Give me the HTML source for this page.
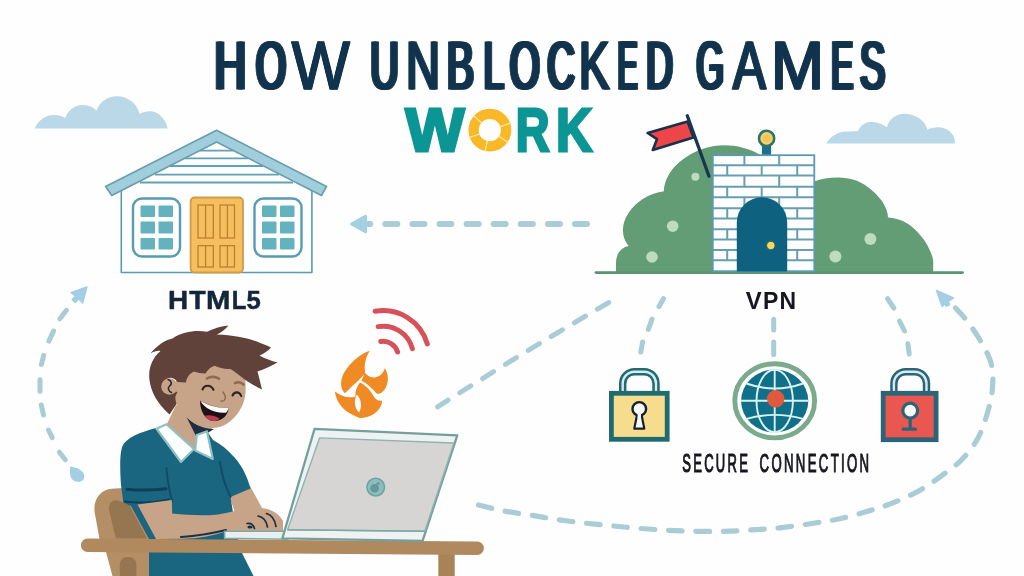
<!DOCTYPE html>
<html>
<head>
<meta charset="utf-8">
<title>How Unblocked Games Work</title>
<style>
html,body{margin:0;padding:0;background:#ffffff;}
body{width:1024px;height:576px;overflow:hidden;font-family:"Liberation Sans",sans-serif;}
svg{display:block;will-change:transform;}
svg text{font-family:"Liberation Sans",sans-serif;font-weight:bold;}
</style>
</head>
<body>
<svg width="1024" height="576" viewBox="0 0 1024 576">
<rect width="1024" height="576" fill="#fefefe"/>
<g id="clouds" fill="#bbd8e9">
<path d="M34.8,128.4 C38,120.5 45.5,115 53.6,115 C58.5,115 62.5,116.3 65.3,118 C68,110.5 74.5,105 82.5,105 C88.5,105 93.8,107.3 96.6,110.8 C99.5,102 107.3,96.3 116.9,96.3 C128,96.3 137.3,103.7 139.5,113.9 C142.5,112.2 146,111.3 149.7,111.3 C158.5,111.3 165.5,118.6 167.7,128.4 Z"/>
<path d="M826,143.4 C831,136 838.5,131.6 846,131.6 C851,131.3 855,131.2 858,131 C860.5,125.3 865.2,121.9 870.5,121.9 C877,121.9 883,124 886.9,127.3 C889,119.3 896,113.75 904,113.75 C915,113.75 925,120 927.5,129.7 C930.7,128 934.5,127.3 938.4,127.3 C946.5,127.3 953.3,132.5 954.5,139 C954.8,140.5 954.8,142 954.8,143.4 Z"/>
</g>

<g id="arrows" fill="none" stroke="#aaccd5" stroke-linecap="round" stroke-linejoin="round">
<path d="M587,224 H368" stroke-width="6" stroke-dasharray="12 15.1"/>
<path d="M351.5,224 L365.5,216.2 V231.8 Z" fill="#a6cfe2" stroke="#a6cfe2" stroke-width="3"/>
<path d="M59.4,452.2 L65.3,459.7 M48.5,430.0 L52.2,437.7 M41.3,405.0 L43.5,415.0 M40.0,379.8 L40.0,391.3 M43.7,355.4 L41.4,364.5 M53.6,331.0 L48.9,341.1 M66.5,310.3 L59.8,318.8 M75.1,300.0 L75.0,300.1" stroke-width="5"/>
<path d="M70.2,466.6 C74.5,467.2 80,469 82.8,472.2 C85.6,475.6 84.6,480 80.8,481.4 C76.6,482.8 72,480.6 70.6,476.4 C69.6,473.2 70,469.6 70.2,466.6 Z" fill="#a3cee3" stroke="none"/>
<path d="M86.9,287 L70.9,292.6 L75.6,296 L72.2,299.6 L75.2,302.6 L78.8,298.8 L82.7,303 Z" fill="#a3cee3" stroke="#a3cee3" stroke-width="1.4"/>
<path d="M773.7,319.3 V329.9 M773.7,342.1 V354.5" stroke-width="5"/>
<path d="M663.4,298.7 L659,306.5 M652,319.2 L648.3,329.3 M642.6,342 L640.8,352" stroke-width="5"/>
<path d="M887.5,298.7 L893.8,308 M899.5,321 L904.5,331 M907.9,343.8 L909.2,353.9" stroke-width="5"/>
<path d="M608.7,302.6 Q522,353 437.6,406.8" stroke-width="5" stroke-dasharray="13 13.85"/>
<path d="M478.5,505.0 C482.8,506.0 495.2,509.3 504.0,511.0 C512.8,512.7 521.9,513.8 531.0,515.2 C540.1,516.7 549.4,518.4 558.5,519.7 C567.6,521.0 576.8,522.2 585.9,523.2 C595.0,524.2 603.8,525.0 613.0,525.9 C622.2,526.8 631.8,527.8 641.0,528.5 C650.2,529.2 659.3,529.8 668.5,530.3 C677.7,530.8 687.1,531.1 696.3,531.3 C705.5,531.5 714.5,531.5 723.7,531.3 C733.0,531.1 742.4,530.5 751.8,529.9 C761.2,529.3 769.2,529.0 780.0,527.8 C790.8,526.6 806.0,524.4 816.5,522.8 C827.0,521.2 834.1,520.0 843.0,518.0 C851.9,516.0 861.5,513.2 870.0,510.6 C878.5,508.0 885.9,505.7 894.0,502.4 C902.1,499.1 910.9,495.3 918.6,491.0 C926.3,486.7 933.4,481.7 940.4,476.6 C947.4,471.5 954.7,466.7 960.8,460.6 C966.9,454.5 972.6,447.5 976.9,440.0 C981.2,432.5 984.0,424.3 986.6,415.8 C989.2,407.3 991.6,397.5 992.4,389.0 C993.2,380.5 993.2,372.3 991.5,364.8 C989.8,357.3 986.0,350.8 982.3,344.0 C978.6,337.2 973.4,329.5 969.3,323.8 C965.1,318.1 960.8,313.7 957.4,310.0 C954.0,306.3 950.4,302.9 949.0,301.5" stroke-width="5.2" stroke-dasharray="13.6 13.82"/>
<path d="M936.6,290.6 L953.4,298 L948.2,301.2 L949.6,304.6 L946,306.2 L944.6,303.4 L942.2,306.4 Z" fill="#a3cee3" stroke="#a3cee3" stroke-width="1.6"/>
</g>

<g id="house">
<!-- wall -->
<path d="M121.3,190 L216.6,140 L311.9,190 L311.9,272.5 L121.3,272.5 Z" fill="#fdfefe" stroke="#5b9bb0" stroke-width="1.6" stroke-linejoin="round"/>
<!-- siding lines -->
<g stroke="#62a0b6" stroke-width="1.8" fill="none">
<path d="M200,150.6 H233"/>
<path d="M185,158.4 H248"/>
<path d="M170,166 H263"/>
<path d="M155,174.7 H279"/>
<path d="M140,182.5 H293"/>
</g>
<!-- roof -->
<path d="M216.6,130.3 L326.5,186.5 L321.5,195.5 L216.6,142 L111.7,195.5 L105.6,186.5 Z" fill="#a0cedc" stroke="#6a9ea8" stroke-width="1.6" stroke-linejoin="round"/>
<!-- door -->
<rect x="190.6" y="197.5" width="52.4" height="75" rx="4" fill="#f5be5f" stroke="#d09c48" stroke-width="1.8"/>
<g fill="none" stroke="#bd8030" stroke-width="1.3">
<rect x="198" y="205" width="15.3" height="33"/>
<rect x="220" y="205" width="14.5" height="33"/>
<rect x="198" y="245.7" width="15.3" height="21.3"/>
<rect x="220" y="245.7" width="14.5" height="21.3"/>
<path d="M205.6,205 V238 M227.4,205 V238 M205.6,245.7 V267 M227.4,245.7 V267"/>
</g>
<!-- windows -->
<g>
<rect x="133" y="198.5" width="47" height="58" rx="9" fill="#fdfefe" stroke="#5b9bb0" stroke-width="2.4"/>
<g fill="#64b2bd">
<rect x="140.5" y="205.5" width="14.5" height="11.5" rx="1"/><rect x="158.5" y="205.5" width="14.5" height="11.5" rx="1"/>
<rect x="140.5" y="221.5" width="14.5" height="12" rx="1"/><rect x="158.5" y="221.5" width="14.5" height="12" rx="1"/>
<rect x="140.5" y="238" width="14.5" height="11.5" rx="1"/><rect x="158.5" y="238" width="14.5" height="11.5" rx="1"/>
</g>
</g>
<g transform="translate(121.5,0)">
<rect x="133" y="198.5" width="47" height="58" rx="9" fill="#fdfefe" stroke="#5b9bb0" stroke-width="2.4"/>
<g fill="#64b2bd">
<rect x="140.5" y="205.5" width="14.5" height="11.5" rx="1"/><rect x="158.5" y="205.5" width="14.5" height="11.5" rx="1"/>
<rect x="140.5" y="221.5" width="14.5" height="12" rx="1"/><rect x="158.5" y="221.5" width="14.5" height="12" rx="1"/>
<rect x="140.5" y="238" width="14.5" height="11.5" rx="1"/><rect x="158.5" y="238" width="14.5" height="11.5" rx="1"/>
</g>
</g>
</g>

<g id="castle">
<!-- bush -->
<g fill="#629d76">
<path d="M616,272.5 V262.5 C616.3,253.5 621,247.5 628.7,246 C621.5,238 620.5,225 628.5,213 C635.5,202.5 647,194 663.8,191.2 C664.2,180 671,168 682,160 C694,151 709,145.3 724,145.3 C737,145.3 749,148.5 760,154.7 V272.5 Z"/>
<path d="M812,272.5 V182.2 C821,178.6 830,177.5 838.4,177.6 C850,177.8 860,181 867.7,187 C875,192.5 880,198 882.4,201.8 C886,207.5 888,213 888,217.6 C891,217.8 894,218.2 897,219 C905,221 912,226 917.4,232 C923,238 927.5,244 929.8,250.3 C932,255 933.2,259 933.2,261.6 V272.5 Z"/>
</g>
<!-- ground -->
<path d="M596,272.6 H962.5" stroke="#5b9470" stroke-width="2.8" stroke-linecap="round"/>
<!-- dots -->
<g fill="#bcdcbc">
<circle cx="695.4" cy="176.8" r="4"/>
<circle cx="672.7" cy="226.2" r="5.8"/>
<circle cx="652" cy="257" r="5.8"/>
<circle cx="870.4" cy="239" r="6"/>
<circle cx="835.4" cy="256.6" r="6"/>
</g>
<!-- flag -->
<path d="M687.6,121.5 L647.6,133 L657,139.2 L652.8,150 L693.4,137.4 Z" fill="#ec4648" stroke="#1d2f48" stroke-width="2.6" stroke-linejoin="round"/>
<path d="M687.3,115.8 L709,176.2" stroke="#173651" stroke-width="3.3" stroke-linecap="round"/>
<!-- beacon -->
<rect x="761.9" y="145" width="9.2" height="10" fill="#1f6f8f"/>
<circle cx="766.6" cy="138.4" r="7.6" fill="#f6d26a" stroke="#2f7266" stroke-width="2.6"/>
<circle cx="766.8" cy="138.2" r="4" fill="#f4c55a"/>
<!-- tower -->
<rect x="712.8" y="155.2" width="101.5" height="116" fill="#fdfefe" stroke="#5b9bb0" stroke-width="1.8"/>
<path d="M712.8,165.3 H814.3 M712.8,175.6 H814.3 M712.8,186.7 H814.3 M712.8,197.2 H814.3 M712.8,208.3 H814.3 M712.8,218.6 H814.3 M712.8,229.2 H814.3 M712.8,239.4 H814.3 M712.8,250 H814.3 M712.8,260.3 H814.3 M744.4,154.7 V165.3 M779.2,154.7 V165.3 M727.2,165.3 V175.6 M761.7,165.3 V175.6 M797.2,165.3 V175.6 M744.4,175.6 V186.7 M779.2,175.6 V186.7 M727.2,186.7 V197.2 M761.7,186.7 V197.2 M797.2,186.7 V197.2 M744.4,197.2 V208.3 M779.2,197.2 V208.3 M727.2,208.3 V218.6 M761.7,208.3 V218.6 M797.2,208.3 V218.6 M744.4,218.6 V229.2 M779.2,218.6 V229.2 M727.2,229.2 V239.4 M761.7,229.2 V239.4 M797.2,229.2 V239.4 M744.4,239.4 V250 M779.2,239.4 V250 M727.2,250 V260.3 M761.7,250 V260.3 M797.2,250 V260.3 M744.4,260.3 V271.4 M779.2,260.3 V271.4" fill="none" stroke="#6a9db0" stroke-width="2"/>

<!-- door -->
<path d="M736.8,271.5 V222.5 A25.2,25.2 0 0 1 787.2,222.5 V271.5 Z" fill="#0e6280"/>
<circle cx="770.8" cy="245.5" r="4.2" fill="#f3d75e" stroke="#2b5f58" stroke-width="0.9"/>
</g>

<g id="icons">
<!-- left lock -->
<g>
<path d="M622.7,393 V383.5 A11.8,11.8 0 0 1 634.5,371.7 H644.2 A11.8,11.8 0 0 1 656,383.5 V393" fill="none" stroke="#1f6b70" stroke-width="7.4"/>
<path d="M622.7,393 V383.5 A11.8,11.8 0 0 1 634.5,371.7 H644.2 A11.8,11.8 0 0 1 656,383.5 V393" fill="none" stroke="#d6ebf0" stroke-width="2.4"/>
<rect x="611.4" y="393.3" width="55.8" height="46" fill="#f6dc8d" stroke="#1f6b70" stroke-width="4.8"/>
<path d="M637.2,414 L634.3,428.6 H644.3 L641.4,414 Z" fill="#f4f8fa" stroke="#16212f" stroke-width="2.2" stroke-linejoin="round"/>
<circle cx="639.3" cy="408.9" r="6.8" fill="#f4f8fa" stroke="#16212f" stroke-width="2.4"/>
<rect x="637.6" y="412" width="3.4" height="6" fill="#f4f8fa"/>
</g>
<!-- right lock -->
<g>
<path d="M893.9,393 V383.5 A11.8,11.8 0 0 1 905.7,371.7 H914.7 A11.8,11.8 0 0 1 926.5,383.5 V393" fill="none" stroke="#2b6478" stroke-width="7.4"/>
<path d="M893.9,393 V383.5 A11.8,11.8 0 0 1 905.7,371.7 H914.7 A11.8,11.8 0 0 1 926.5,383.5 V393" fill="none" stroke="#d6ebf0" stroke-width="2.4"/>
<rect x="883.2" y="393.3" width="52.9" height="46.4" fill="#ea5650" stroke="#2b6478" stroke-width="4.8"/>
<path d="M910.2,418 V429 M903.2,429.2 H915.4" fill="none" stroke="#2b6478" stroke-width="3.2" stroke-linecap="round"/>
<circle cx="910.2" cy="410.6" r="7.4" fill="#fbfdfd" stroke="#2b6478" stroke-width="3.2"/>
</g>
<!-- globe -->
<g>
<ellipse cx="774.7" cy="400.8" rx="39.9" ry="37.1" fill="#fdfefe" stroke="#7caa8c" stroke-width="4.9"/>
<ellipse cx="774.7" cy="401" rx="33.6" ry="31.5" fill="#10708a"/>
<g fill="none" stroke="#d9f3f3" stroke-width="1.9">
<path d="M774.7,369.5 V432.5"/>
<path d="M741.1,400.7 H808.3"/>
<ellipse cx="774.7" cy="401" rx="18.2" ry="31.2"/>
<path d="M746.5,383.5 Q774.7,393.5 803,383.5"/>
<path d="M746.5,418.8 Q774.7,411 803,418.8"/>
</g>
<circle cx="775.7" cy="398.8" r="8.7" fill="#e2583c"/>
</g>
</g>

<g id="boy">
<!-- chair -->
<path d="M94.6,512 C93,499 101,489.5 112,488.8 L124,488 L150,540 L150,576 L112.5,576 L106,552 L99.3,538 Z" fill="#b48e64"/>
<path d="M109,510 C108.5,503 112,500 117,500.3 L129,504.5 L147,538.5 L115.9,538.5 Z" fill="#967650"/>
<path d="M119.8,576 V565 C119.8,559.5 123.5,557 128,557 C132.5,557 136.4,559.5 136.4,565 V576 Z" fill="#967650"/>
<!-- neck -->
<path d="M176,405 L166,426 L193.5,449.5 L207,432 L215,426 Z" fill="#c7a388"/>
<path d="M186,416 C192,424 202,428.5 214,429 L207.5,433 L196,436 Z" fill="#1c2f45"/>
<!-- far arm -->
<path d="M228,492 L250,486 L262,508 L268,522 L240,528 Z" fill="#c7a388"/>
<!-- shirt -->
<path d="M156.4,428 C140,432 126,438 122.5,446 C119.5,454 120,470 121,485 L123.3,502.5 L131,506 L149,539 L149,576 L253.5,576 L241.5,552 L236,531 L230.5,497 L250.5,488.5 C247,476 242,466 235,458 C228,450 221,444 213,440 L207,431 L193.5,449 L166,425 Z" fill="#1a657f"/>
<!-- sleeve shadows -->
<path d="M127,489.2 C140,490.6 155,490 166,488.7" fill="none" stroke="#103f5c" stroke-width="3" stroke-linecap="round"/>
<path d="M125,501.5 C140,503.5 156,502.5 169,499.5" fill="none" stroke="#103f5c" stroke-width="2" stroke-linecap="round"/>
<path d="M166.5,468 C167,480 169.5,491 172,501" fill="none" stroke="#124a66" stroke-width="1.8" stroke-linecap="round"/>
<path d="M220,462 C222,476 226,488 230.5,497" fill="none" stroke="#124a66" stroke-width="1.8" stroke-linecap="round"/>
<!-- collar -->
<path d="M156.4,428.7 L166.5,424.2 L194,448.9 L181,462 Z" fill="#fdfefe" stroke="#8fc1c3" stroke-width="2.2" stroke-linejoin="round"/>
<path d="M196.8,435 L207,431.4 L212.8,459 L195.2,450.4 Z" fill="#fdfefe" stroke="#8fc1c3" stroke-width="2.2" stroke-linejoin="round"/>
<!-- near arm -->
<path d="M137.5,504.5 L171.8,500 L172.2,513.6 C185,515 198,515.6 210,515.2 C221,514.6 231,512 241.5,509.5 C249,507.5 258,507.5 265,508.5 C273,510 280,515 283,521 L283,531 L226,531.5 C212,536 198,538.5 184,538.8 L156,539 Z" fill="#c7a388"/>
<!-- fingers -->
<g fill="none" stroke="#1c2f45" stroke-width="1.7" stroke-linecap="round">
<path d="M258,516 C263,517 266.5,521 267.5,527"/>
<path d="M266.5,513.5 C271.5,515 275,520 276,526.5"/>
<path d="M247,523.5 C250.5,523 253.5,525 254.5,528.5"/>
<path d="M181,537 C196,536 212,533.5 226,530" stroke-width="2.2"/>
<ellipse cx="250" cy="527" rx="2.6" ry="1.6" fill="#1c2f45" stroke="none"/>
</g>
<!-- face -->
<path d="M176,372 L178,358 L240,356 C246,375 247.5,391 243.5,402.5 C239.5,414 229,425.5 217,427.6 C205,429.2 194,424.5 186,417 C181,412 178,407 176,403 Z" fill="#c7a388"/>
<!-- hair -->
<path d="M228.5,325.5 C221.5,326.2 214,328.2 207,331.8 C196,330 183,331.5 172.5,338.5 C165,340 157,345.5 150.5,353.5 C154,351.5 157.5,350.5 160.5,351 C152,358 148,369 149.5,380 C151,392 157,403 169.5,414.5 L176.5,404 C175,398 175.5,394.5 177.5,392.5 C172,388.5 167,382.5 167.5,378.5 C170.5,376.5 175.5,378.5 177.5,382 L186,382.5 C186.5,377.5 190,373 194,371.5 C197,372.5 201.5,373.5 205.5,373.5 C207.5,370 210.5,367 214.5,365.8 C219,368 225,369.5 230.5,369 C236,372.5 241.5,377 246,380.5 C251,383.5 256.5,387 262,389.5 C260.5,383.5 259,377 257.5,371.5 C264,369.5 271.5,366 277.5,362.5 C271.5,361 265,358.5 259.5,355.5 C264,353.5 268,351 271,347.5 C267,345.6 263,344 258,342 C249,338.4 233,335 216.8,334.6 C221.5,332.2 225.8,329 228.5,325.5 Z" fill="#60423a"/>
<!-- ear -->
<circle cx="169.5" cy="386.5" r="8.3" fill="#c7a388"/>
<path d="M168,379.5 C171.5,380.5 172.5,384 169.5,386 C167.5,388 168.5,391.5 171.5,392.5" fill="none" stroke="#2a2430" stroke-width="1.5" stroke-linecap="round"/>
<!-- eyes, brows, nose -->
<g fill="none" stroke-linecap="round">
<path d="M202.5,389.5 C204.5,384.5 211,384.5 213.5,389.8" stroke="#33222a" stroke-width="2.1"/>
<path d="M232.5,395.5 C234.5,391 239.5,391.5 241.2,396" stroke="#33222a" stroke-width="2.1"/>
<path d="M207,378.5 C211,376 216,376.5 219,378.8" stroke="#8f6a52" stroke-width="2.6"/>
<path d="M235,383 C238,381.8 241.5,382.5 243.5,384.5" stroke="#8f6a52" stroke-width="2.6"/>
<path d="M223,392 C225.5,395.5 226.5,398.5 224,400.5 C223,401.2 221.8,401.2 221,400.8" stroke="#8a6a50" stroke-width="1.4"/>
</g>
<!-- mouth -->
<path d="M200,400.6 C208,405.4 218.5,408.7 228.7,407.5 C228.3,415.5 221.5,421.6 213.5,421.1 C205.5,420.4 200.2,412 200,400.6 Z" fill="#1f1118"/>
<path d="M200.3,400.8 C208,405.4 218.5,408.7 228.7,407.5 C228.4,409.5 227.4,411.4 226,412.7 C219,413.1 212,411.6 207,408.1 C204.4,406.3 202,403.8 200.3,400.8 Z" fill="#fbfbf8"/>
<path d="M204.5,415.8 C209,414.4 215.5,415.4 219.6,418.7 C217.8,420.3 215.6,421.2 213.5,421.1 C210,420.8 206.8,418.9 204.5,415.8 Z" fill="#c03c4c"/>
</g>

<g id="laptop">
<!-- table -->
<path d="M438.3,548 H454.7 V576 H438.3 Z" fill="#a98358"/>
<path d="M87.6,545.2 L477.2,548.3" stroke="#b08a5e" stroke-width="13.4" stroke-linecap="round" fill="none"/>
<!-- base -->
<path d="M224.6,531.2 H288 V539.2 L224.6,538.4 Z" fill="#e9efef" stroke="#7fa9a7" stroke-width="1.6" stroke-linejoin="round"/>
<!-- lid outer -->
<path d="M314.6,428.8 L457.3,435.4 L422.6,540.8 L282.4,538.3 Z" fill="#eef2f2" stroke="#74a09c" stroke-width="2.3" stroke-linejoin="round"/>
<!-- lid panel -->
<path d="M319.5,437.9 L453.9,443 L424.8,531.3 L287.6,529.8 Z" fill="#d6d5d3" stroke="#8fb3b1" stroke-width="1.4" stroke-linejoin="round"/>
<path d="M287.6,529.8 L424.8,531.3" stroke="#7fa9a7" stroke-width="1.6" fill="none"/>
<!-- logo -->
<circle cx="375.7" cy="487.1" r="8.8" fill="#8fbcbc" stroke="#6fa3a3" stroke-width="1.6"/>
<circle cx="374.6" cy="488.3" r="4.3" fill="#5f9a9c"/>
<circle cx="378.2" cy="483.5" r="1.6" fill="#5f9a9c"/>
</g>

<g id="fire">
<path d="M380.8,341.5 A15.1,15.1 0 0 1 397.6,352.0 M378.2,326.6 A30.2,30.2 0 0 1 412.4,348.6 M375.2,311.3 A45.8,45.8 0 0 1 427.3,343.9" fill="none" stroke="#d7515a" stroke-width="5" stroke-linecap="round"/>
<g fill="#f08a25">
<path d="M334.9,391.5 C336,400 341,408 348.5,412.5 C352.5,415 356.5,417 360,418 C366,418 373,415.5 377.5,411 C380.5,408 382,404.5 382.2,400.6 C378.5,401.5 375.5,399.5 373.5,396 C370.5,390.5 366,385.5 360.3,382 C357,386 355,391 355.3,396.4 C349,398.8 341.5,396.5 334.9,391.5 Z"/>
<g fill="none" stroke="#fefefe" stroke-width="4.4" stroke-linejoin="round">
<path d="M369.7,350.8 C361,353.8 351,361.5 344.2,372.5 C340,380 339.8,388.5 344.9,393.3 C349,389 355,383.5 359,380 C362,377 364.2,374.5 365.2,372.1 C364,366.5 365,358.5 369.7,350.8 Z"/>
<path d="M364,371.6 C366.5,375.6 371,378.2 375.8,377.2 C380.4,376.2 383.6,372.6 384.9,367.9 C388.6,374 389.2,383 384.6,389.6 C382.2,393 379.2,394.4 376.6,393.6 C374,390.4 371,387.4 368,385 C365.6,383 363.4,381.6 361.4,380.8 C363,378 364,375 364,371.6 Z"/>
</g>
<path d="M369.7,350.8 C361,353.8 351,361.5 344.2,372.5 C340,380 339.8,388.5 344.9,393.3 C349,389 355,383.5 359,380 C362,377 364.2,374.5 365.2,372.1 C364,366.5 365,358.5 369.7,350.8 Z"/>
<path d="M364,371.6 C366.5,375.6 371,378.2 375.8,377.2 C380.4,376.2 383.6,372.6 384.9,367.9 C388.6,374 389.2,383 384.6,389.6 C382.2,393 379.2,394.4 376.6,393.6 C374,390.4 371,387.4 368,385 C365.6,383 363.4,381.6 361.4,380.8 C363,378 364,375 364,371.6 Z"/>
</g>
<path d="M356.8,394.5 C361,399 362.5,405.5 359.2,412.5 C354.2,408 353.6,400.5 356.8,394.5 Z" fill="#fefefe"/>
</g>

<g id="title">
<text transform="translate(212.54,89.10) scale(0.6499,1)" font-size="68.17" fill="#12334d" stroke="#12334d" stroke-width="1.0" vector-effect="non-scaling-stroke" style="font-weight:normal">H</text>
<text transform="translate(214.34,89.10) scale(0.6499,1)" font-size="68.17" fill="#12334d" stroke="#12334d" stroke-width="1.0" vector-effect="non-scaling-stroke" style="font-weight:normal">H</text>
<text transform="translate(216.14,89.10) scale(0.6499,1)" font-size="68.17" fill="#12334d" stroke="#12334d" stroke-width="1.0" vector-effect="non-scaling-stroke" style="font-weight:normal">H</text>
<text transform="translate(254.05,89.10) scale(0.5717,1)" font-size="68.17" fill="#12334d" stroke="#12334d" stroke-width="1.0" vector-effect="non-scaling-stroke" style="font-weight:normal">O</text>
<text transform="translate(255.85,89.10) scale(0.5717,1)" font-size="68.17" fill="#12334d" stroke="#12334d" stroke-width="1.0" vector-effect="non-scaling-stroke" style="font-weight:normal">O</text>
<text transform="translate(257.65,89.10) scale(0.5717,1)" font-size="68.17" fill="#12334d" stroke="#12334d" stroke-width="1.0" vector-effect="non-scaling-stroke" style="font-weight:normal">O</text>
<text transform="translate(291.19,89.10) scale(0.9053,1)" font-size="68.17" fill="#12334d" stroke="#12334d" stroke-width="1.0" vector-effect="non-scaling-stroke" style="font-weight:normal">W</text>
<text transform="translate(291.59,89.10) scale(0.9053,1)" font-size="68.17" fill="#12334d" stroke="#12334d" stroke-width="1.0" vector-effect="non-scaling-stroke" style="font-weight:normal">W</text>
<text transform="translate(291.99,89.10) scale(0.9053,1)" font-size="68.17" fill="#12334d" stroke="#12334d" stroke-width="1.0" vector-effect="non-scaling-stroke" style="font-weight:normal">W</text>
<text transform="translate(368.44,89.10) scale(0.5790,1)" font-size="68.17" fill="#12334d" stroke="#12334d" stroke-width="1.0" vector-effect="non-scaling-stroke" style="font-weight:normal">U</text>
<text transform="translate(370.24,89.10) scale(0.5790,1)" font-size="68.17" fill="#12334d" stroke="#12334d" stroke-width="1.0" vector-effect="non-scaling-stroke" style="font-weight:normal">U</text>
<text transform="translate(372.04,89.10) scale(0.5790,1)" font-size="68.17" fill="#12334d" stroke="#12334d" stroke-width="1.0" vector-effect="non-scaling-stroke" style="font-weight:normal">U</text>
<text transform="translate(404.94,89.10) scale(0.6868,1)" font-size="68.17" fill="#12334d" stroke="#12334d" stroke-width="1.0" vector-effect="non-scaling-stroke" style="font-weight:normal">N</text>
<text transform="translate(406.04,89.10) scale(0.6868,1)" font-size="68.17" fill="#12334d" stroke="#12334d" stroke-width="1.0" vector-effect="non-scaling-stroke" style="font-weight:normal">N</text>
<text transform="translate(407.14,89.10) scale(0.6868,1)" font-size="68.17" fill="#12334d" stroke="#12334d" stroke-width="1.0" vector-effect="non-scaling-stroke" style="font-weight:normal">N</text>
<text transform="translate(445.02,89.10) scale(0.6006,1)" font-size="68.17" fill="#12334d" stroke="#12334d" stroke-width="1.0" vector-effect="non-scaling-stroke" style="font-weight:normal">B</text>
<text transform="translate(446.82,89.10) scale(0.6006,1)" font-size="68.17" fill="#12334d" stroke="#12334d" stroke-width="1.0" vector-effect="non-scaling-stroke" style="font-weight:normal">B</text>
<text transform="translate(448.62,89.10) scale(0.6006,1)" font-size="68.17" fill="#12334d" stroke="#12334d" stroke-width="1.0" vector-effect="non-scaling-stroke" style="font-weight:normal">B</text>
<text transform="translate(482.02,89.10) scale(0.5301,1)" font-size="68.17" fill="#12334d" stroke="#12334d" stroke-width="1.0" vector-effect="non-scaling-stroke" style="font-weight:normal">L</text>
<text transform="translate(483.82,89.10) scale(0.5301,1)" font-size="68.17" fill="#12334d" stroke="#12334d" stroke-width="1.0" vector-effect="non-scaling-stroke" style="font-weight:normal">L</text>
<text transform="translate(485.62,89.10) scale(0.5301,1)" font-size="68.17" fill="#12334d" stroke="#12334d" stroke-width="1.0" vector-effect="non-scaling-stroke" style="font-weight:normal">L</text>
<text transform="translate(508.08,89.10) scale(0.5631,1)" font-size="68.17" fill="#12334d" stroke="#12334d" stroke-width="1.0" vector-effect="non-scaling-stroke" style="font-weight:normal">O</text>
<text transform="translate(509.88,89.10) scale(0.5631,1)" font-size="68.17" fill="#12334d" stroke="#12334d" stroke-width="1.0" vector-effect="non-scaling-stroke" style="font-weight:normal">O</text>
<text transform="translate(511.68,89.10) scale(0.5631,1)" font-size="68.17" fill="#12334d" stroke="#12334d" stroke-width="1.0" vector-effect="non-scaling-stroke" style="font-weight:normal">O</text>
<text transform="translate(545.62,89.10) scale(0.5520,1)" font-size="68.17" fill="#12334d" stroke="#12334d" stroke-width="1.0" vector-effect="non-scaling-stroke" style="font-weight:normal">C</text>
<text transform="translate(547.42,89.10) scale(0.5520,1)" font-size="68.17" fill="#12334d" stroke="#12334d" stroke-width="1.0" vector-effect="non-scaling-stroke" style="font-weight:normal">C</text>
<text transform="translate(549.22,89.10) scale(0.5520,1)" font-size="68.17" fill="#12334d" stroke="#12334d" stroke-width="1.0" vector-effect="non-scaling-stroke" style="font-weight:normal">C</text>
<text transform="translate(577.97,89.10) scale(0.6637,1)" font-size="68.17" fill="#12334d" stroke="#12334d" stroke-width="1.0" vector-effect="non-scaling-stroke" style="font-weight:normal">K</text>
<text transform="translate(579.17,89.10) scale(0.6637,1)" font-size="68.17" fill="#12334d" stroke="#12334d" stroke-width="1.0" vector-effect="non-scaling-stroke" style="font-weight:normal">K</text>
<text transform="translate(580.37,89.10) scale(0.6637,1)" font-size="68.17" fill="#12334d" stroke="#12334d" stroke-width="1.0" vector-effect="non-scaling-stroke" style="font-weight:normal">K</text>
<text transform="translate(615.88,89.10) scale(0.4299,1)" font-size="68.17" fill="#12334d" stroke="#12334d" stroke-width="1.0" vector-effect="non-scaling-stroke" style="font-weight:normal">E</text>
<text transform="translate(617.68,89.10) scale(0.4299,1)" font-size="68.17" fill="#12334d" stroke="#12334d" stroke-width="1.0" vector-effect="non-scaling-stroke" style="font-weight:normal">E</text>
<text transform="translate(619.48,89.10) scale(0.4299,1)" font-size="68.17" fill="#12334d" stroke="#12334d" stroke-width="1.0" vector-effect="non-scaling-stroke" style="font-weight:normal">E</text>
<text transform="translate(644.45,89.10) scale(0.5422,1)" font-size="68.17" fill="#12334d" stroke="#12334d" stroke-width="1.0" vector-effect="non-scaling-stroke" style="font-weight:normal">D</text>
<text transform="translate(646.25,89.10) scale(0.5422,1)" font-size="68.17" fill="#12334d" stroke="#12334d" stroke-width="1.0" vector-effect="non-scaling-stroke" style="font-weight:normal">D</text>
<text transform="translate(648.05,89.10) scale(0.5422,1)" font-size="68.17" fill="#12334d" stroke="#12334d" stroke-width="1.0" vector-effect="non-scaling-stroke" style="font-weight:normal">D</text>
<text transform="translate(694.74,89.10) scale(0.5171,1)" font-size="68.17" fill="#12334d" stroke="#12334d" stroke-width="1.0" vector-effect="non-scaling-stroke" style="font-weight:normal">G</text>
<text transform="translate(696.54,89.10) scale(0.5171,1)" font-size="68.17" fill="#12334d" stroke="#12334d" stroke-width="1.0" vector-effect="non-scaling-stroke" style="font-weight:normal">G</text>
<text transform="translate(698.34,89.10) scale(0.5171,1)" font-size="68.17" fill="#12334d" stroke="#12334d" stroke-width="1.0" vector-effect="non-scaling-stroke" style="font-weight:normal">G</text>
<text transform="translate(731.88,89.10) scale(0.7241,1)" font-size="68.17" fill="#12334d" stroke="#12334d" stroke-width="1.0" vector-effect="non-scaling-stroke" style="font-weight:normal">A</text>
<text transform="translate(732.78,89.10) scale(0.7241,1)" font-size="68.17" fill="#12334d" stroke="#12334d" stroke-width="1.0" vector-effect="non-scaling-stroke" style="font-weight:normal">A</text>
<text transform="translate(733.68,89.10) scale(0.7241,1)" font-size="68.17" fill="#12334d" stroke="#12334d" stroke-width="1.0" vector-effect="non-scaling-stroke" style="font-weight:normal">A</text>
<text transform="translate(770.28,89.10) scale(0.9274,1)" font-size="68.17" fill="#12334d" stroke="#12334d" stroke-width="1.0" vector-effect="non-scaling-stroke" style="font-weight:normal">M</text>
<text transform="translate(771.08,89.10) scale(0.9274,1)" font-size="68.17" fill="#12334d" stroke="#12334d" stroke-width="1.0" vector-effect="non-scaling-stroke" style="font-weight:normal">M</text>
<text transform="translate(771.88,89.10) scale(0.9274,1)" font-size="68.17" fill="#12334d" stroke="#12334d" stroke-width="1.0" vector-effect="non-scaling-stroke" style="font-weight:normal">M</text>
<text transform="translate(829.51,89.10) scale(0.4786,1)" font-size="68.17" fill="#12334d" stroke="#12334d" stroke-width="1.0" vector-effect="non-scaling-stroke" style="font-weight:normal">E</text>
<text transform="translate(831.31,89.10) scale(0.4786,1)" font-size="68.17" fill="#12334d" stroke="#12334d" stroke-width="1.0" vector-effect="non-scaling-stroke" style="font-weight:normal">E</text>
<text transform="translate(833.11,89.10) scale(0.4786,1)" font-size="68.17" fill="#12334d" stroke="#12334d" stroke-width="1.0" vector-effect="non-scaling-stroke" style="font-weight:normal">E</text>
<text transform="translate(858.20,89.10) scale(0.5536,1)" font-size="68.17" fill="#12334d" stroke="#12334d" stroke-width="1.0" vector-effect="non-scaling-stroke" style="font-weight:normal">S</text>
<text transform="translate(860.00,89.10) scale(0.5536,1)" font-size="68.17" fill="#12334d" stroke="#12334d" stroke-width="1.0" vector-effect="non-scaling-stroke" style="font-weight:normal">S</text>
<text transform="translate(861.80,89.10) scale(0.5536,1)" font-size="68.17" fill="#12334d" stroke="#12334d" stroke-width="1.0" vector-effect="non-scaling-stroke" style="font-weight:normal">S</text>
<text transform="translate(405.54,150.90) scale(1.0285,1)" font-size="60.61" fill="#0b9695" stroke="#0b9695" stroke-width="3.0" vector-effect="non-scaling-stroke" stroke-linejoin="miter">W</text>
<text transform="translate(515.74,151.10) scale(0.7648,1)" font-size="61.19" fill="#0b9695" stroke="#0b9695" stroke-width="2.6" vector-effect="non-scaling-stroke" stroke-linejoin="miter">R</text>
<text transform="translate(555.91,151.10) scale(0.8209,1)" font-size="61.19" fill="#0b9695" stroke="#0b9695" stroke-width="2.6" vector-effect="non-scaling-stroke" stroke-linejoin="miter">K</text>
</g>
<g id="ring">
<circle cx="489.85" cy="130.2" r="16.25" fill="none" stroke="#f9b826" stroke-width="10.3"/>
<path d="M482.0,123.2 L473.5,115.5 M499.8,126.8 L510.7,123.0 M498.6,136.1 L508.1,142.5 M487.5,140.4 L484.9,151.6 M480.0,133.8 L469.2,137.7" stroke="#fbe7a2" stroke-width="1.4" fill="none"/>
</g>

<g id="labels">
<text transform="translate(167.92,309.40) scale(1.0552,1)" font-size="26.45" fill="#13263b" stroke="#13263b" stroke-width="0.5" vector-effect="non-scaling-stroke">H</text>
<text transform="translate(189.26,309.40) scale(1.0166,1)" font-size="26.45" fill="#13263b" stroke="#13263b" stroke-width="0.5" vector-effect="non-scaling-stroke">T</text>
<text transform="translate(206.12,309.40) scale(1.1110,1)" font-size="26.45" fill="#13263b" stroke="#13263b" stroke-width="0.5" vector-effect="non-scaling-stroke">M</text>
<text transform="translate(231.78,309.40) scale(0.9073,1)" font-size="26.45" fill="#13263b" stroke="#13263b" stroke-width="0.5" vector-effect="non-scaling-stroke">L</text>
<text transform="translate(246.47,309.40) scale(0.9699,1)" font-size="26.45" fill="#13263b" stroke="#13263b" stroke-width="0.5" vector-effect="non-scaling-stroke">5</text>
<text transform="translate(745.72,309.00) scale(1.0280,1)" font-size="23.26" fill="#16161e" >V</text>
<text transform="translate(762.95,309.00) scale(0.9894,1)" font-size="23.26" fill="#16161e" >P</text>
<text transform="translate(779.45,309.00) scale(0.9881,1)" font-size="23.26" fill="#16161e" >N</text>
<text x="682.2" y="472.2" font-size="25.6" fill="#16161e" stroke="#16161e" stroke-width="1.15" vector-effect="non-scaling-stroke" style="font-weight:normal;letter-spacing:4.5px" textLength="68" lengthAdjust="spacingAndGlyphs">SECURE</text>
<text x="759.6" y="472.2" font-size="25.6" fill="#16161e" stroke="#16161e" stroke-width="1.15" vector-effect="non-scaling-stroke" style="font-weight:normal;letter-spacing:4.5px" textLength="111.8" lengthAdjust="spacingAndGlyphs">CONNECTION</text>
</g>
</svg>
</body>
</html>
